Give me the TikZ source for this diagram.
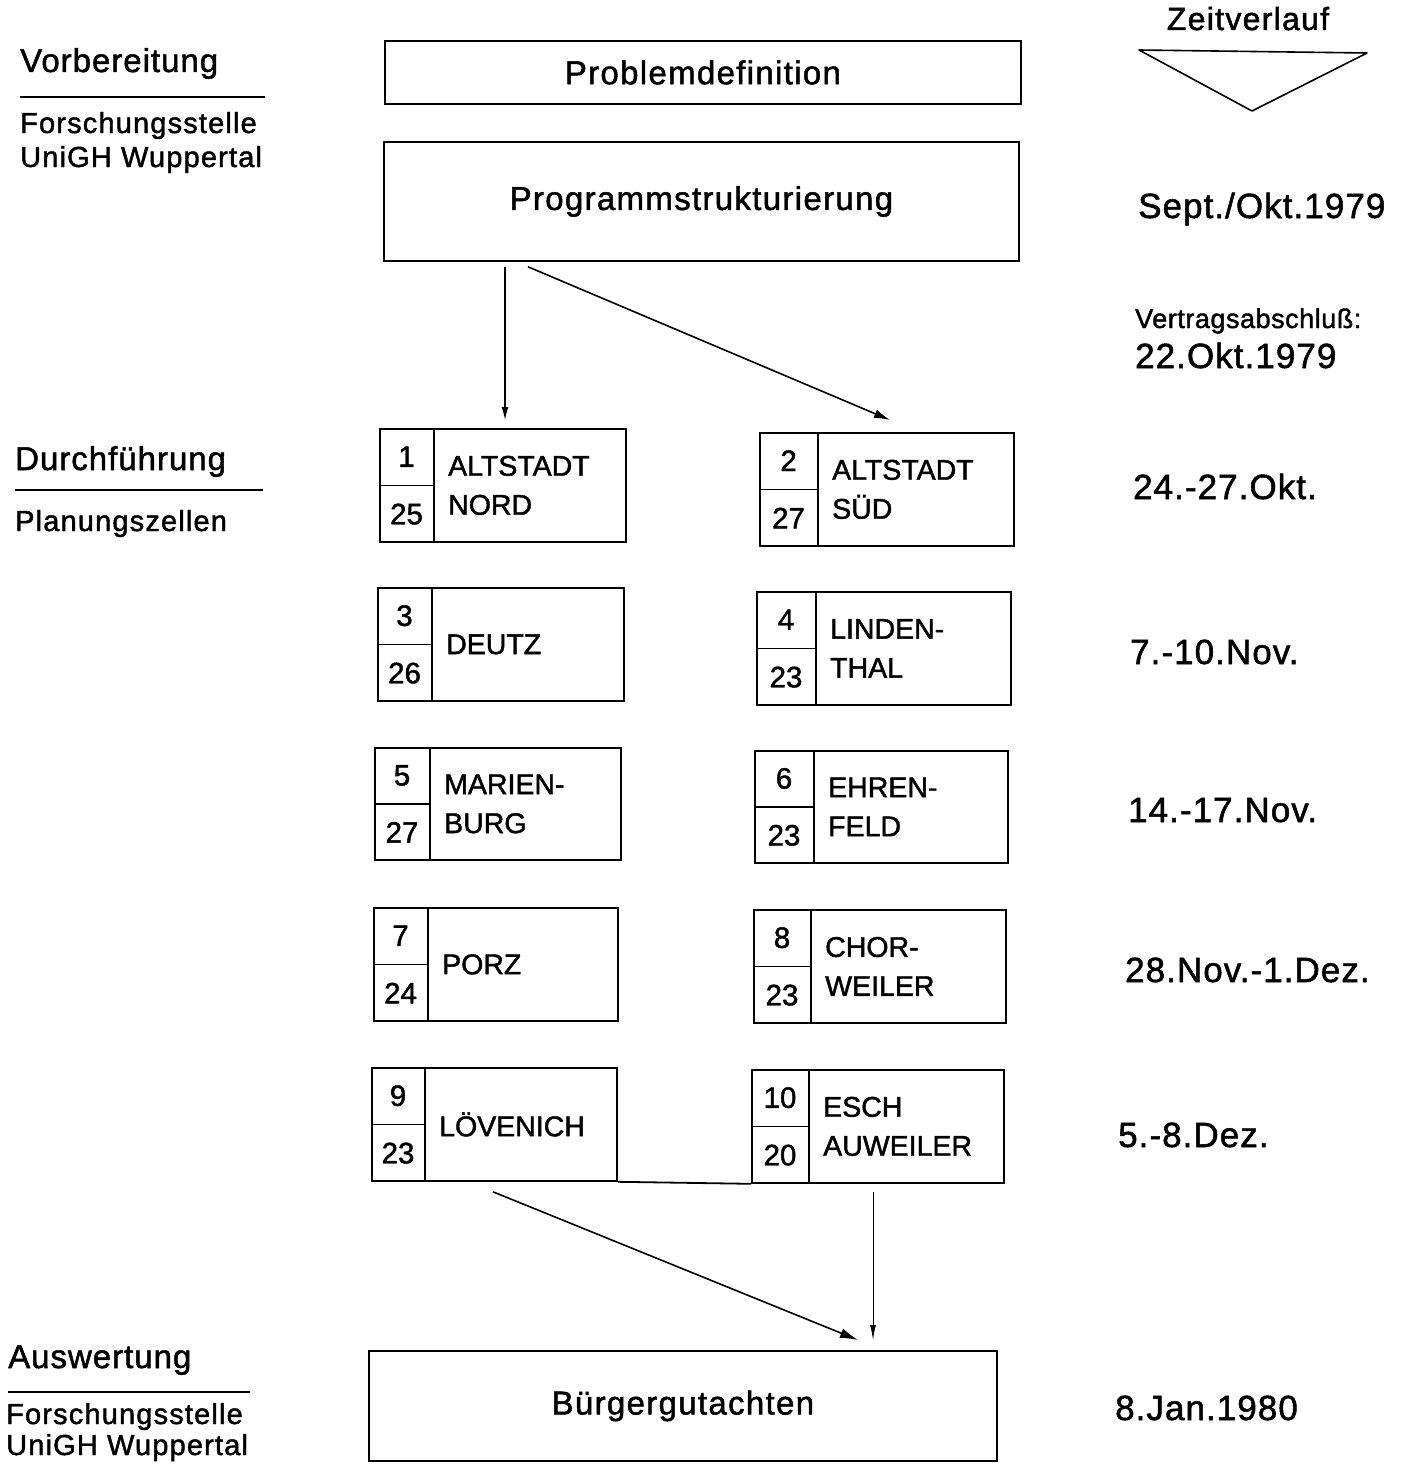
\documentclass[tikz,border=0pt]{standalone}
\usepackage{fontspec}
\setmainfont{Liberation Sans}[FakeBold=1.5]
\newfontfamily\spacedA{Liberation Sans}[LetterSpace=4,FakeBold=1.5]
\newfontfamily\spacedB{Liberation Sans}[LetterSpace=3,FakeBold=1.5]
\newfontfamily\spacedC{Liberation Sans}[LetterSpace=2,FakeBold=1.5]
\usetikzlibrary{arrows.meta,calc}
\newcommand\zelle[9]{%
  \node[cellbox, minimum width=#4pt, minimum height=#5pt] (#1) at (#2,#3) {};
  \draw[boxline] ([xshift=#6pt]#1.north west) -- ([xshift=#6pt]#1.south west);
  \draw[boxline] (#1.west) -- ([xshift=#6pt]#1.west);
  \node[numtext] (#1a) at ($(#1.north west)!0.5!([xshift=#6pt]#1.west)$) {#7};
  \node[numtext] (#1b) at ($(#1.south west)!0.5!([xshift=#6pt]#1.west)$) {#8};
  \node[labeltext] (#1l) at ([xshift=#6pt+14pt]#1.west) {#9};
}
\begin{document}
\begin{tikzpicture}[x=1pt,y=-1pt,
  boxline/.style={line width=1.8pt},
  cellbox/.style={draw, line width=1.8pt, anchor=north west, inner sep=0pt},
  bigbox/.style={draw, line width=1.8pt, anchor=north west, inner sep=0pt,
    font=\spacedA\fontsize{33}{38}\selectfont},
  numtext/.style={inner sep=0pt, font=\fontsize{29.5}{34}\selectfont},
  labeltext/.style={inner sep=0pt, anchor=west, align=left,
    font=\fontsize{28.5}{39}\selectfont},
  headtext/.style={inner sep=0pt, anchor=base west, font=\spacedB\fontsize{33}{38}\selectfont},
  subtext/.style={inner sep=0pt, anchor=base west, font=\spacedA\fontsize{29}{34}\selectfont},
  datetext/.style={inner sep=0pt, anchor=base west, font=\spacedB\fontsize{35}{40}\selectfont},
  smalldate/.style={inner sep=0pt, anchor=base west, font=\spacedC\fontsize{27}{32}\selectfont},
  conn/.style={line width=1.6pt},
]
\useasboundingbox (0,0) rectangle (1406,1469);
\fill[white] (0,0) rectangle (1406,1469);

% main boxes
\node[bigbox, minimum width=636pt, minimum height=63pt] (pd) at (384,40) {Problemdefinition};
\node[bigbox, minimum width=635pt, minimum height=119pt] (ps) at (383,141) {Programmstrukturierung};
\node[bigbox, minimum width=628pt, minimum height=110pt] (bg) at (368,1350) {Bürgergutachten};

% cells
\zelle{c1}{379}{428}{246}{113}{55}{1}{25}{ALTSTADT\\NORD}
\zelle{c2}{759}{432}{254}{113}{59}{2}{27}{ALTSTADT\\SÜD}
\zelle{c3}{377}{587}{246}{113}{55}{3}{26}{DEUTZ}
\zelle{c4}{756}{591}{254}{113}{60}{4}{23}{LINDEN-\\THAL}
\zelle{c5}{374}{747}{246}{112}{56}{5}{27}{MARIEN-\\BURG}
\zelle{c6}{754}{750}{253}{112}{60}{6}{23}{EHREN-\\FELD}
\zelle{c7}{373}{907}{244}{113}{55}{7}{24}{PORZ}
\zelle{c8}{753}{909}{252}{113}{58}{8}{23}{CHOR-\\WEILER}
\zelle{c9}{371}{1067}{245}{113}{54}{9}{23}{LÖVENICH}
\zelle{c10}{751}{1069}{252}{113}{58}{10}{20}{ESCH\\AUWEILER}

% base line joining the last two cells
\draw[boxline] (c9.south east) -- (c10.south west);

% connectors
\draw[line width=1.3pt, -{Latex[length=13pt,width=7pt]}]
  ([xshift=122pt,yshift=-5pt]ps.south west) -- ([xshift=126pt,yshift=8pt]c1.north west);
\draw[conn, -{Latex[length=16pt,width=9pt]}]
  ([xshift=145pt,yshift=-5pt]ps.south west) -- ([xshift=131pt,yshift=12pt]c2.north west);
\draw[conn, -{Latex[length=18pt,width=10pt]}]
  ([xshift=122pt,yshift=-10pt]c9.south west) -- ([xshift=490pt,yshift=10pt]bg.north west);
\draw[line width=1pt, -{Latex[length=15pt,width=6pt]}]
  ([xshift=122pt,yshift=-8pt]c10.south west) -- ([xshift=505pt,yshift=10pt]bg.north west);

% left column
\node[headtext] (h1) at (20,72) {Vorbereitung};
\draw[boxline] (20,97) coordinate (l1a) -- (265,97) coordinate (l1b);
\node[subtext] (s1a) at (20,133) {Forschungsstelle};
\node[subtext] (s1b) at (20,167) {UniGH Wuppertal};

\node[headtext] (h2) at (15,470) {Durchführung};
\draw[boxline] (15,490) coordinate (l2a) -- (263,490) coordinate (l2b);
\node[subtext] (s2) at (15,531) {Planungszellen};

\node[headtext] (h3) at (8,1368) {Auswertung};
\draw[boxline] (8,1392) coordinate (l3a) -- (250,1392) coordinate (l3b);
\node[subtext] (s3a) at (6,1424) {Forschungsstelle};
\node[subtext] (s3b) at (6,1455) {UniGH Wuppertal};

% right column
\node[inner sep=0pt, anchor=base, font=\spacedA\fontsize{32}{37}\selectfont] (zv) at (1248,30) {Zeitverlauf};
\coordinate (t1) at (1139,50);
\coordinate (t2) at (1367,53);
\coordinate (t3) at (1252,111);
\draw[line width=1.6pt, line join=round] (t1) -- (t2) -- (t3) -- cycle;

\node[datetext] (d1) at (1138,218) {Sept./Okt.1979};
\node[smalldate] (d2) at (1135,328) {Vertragsabschluß:};
\node[datetext] (d3) at (1135,368) {22.Okt.1979};
\node[datetext] (d4) at (1133,499) {24.-27.Okt.};
\node[datetext] (d5) at (1130,664) {7.-10.Nov.};
\node[datetext] (d6) at (1128,822) {14.-17.Nov.};
\node[datetext] (d7) at (1125,982) {28.Nov.-1.Dez.};
\node[datetext] (d8) at (1118,1147) {5.-8.Dez.};
\node[datetext] (d9) at (1115,1420) {8.Jan.1980};
\end{tikzpicture}
\end{document}
